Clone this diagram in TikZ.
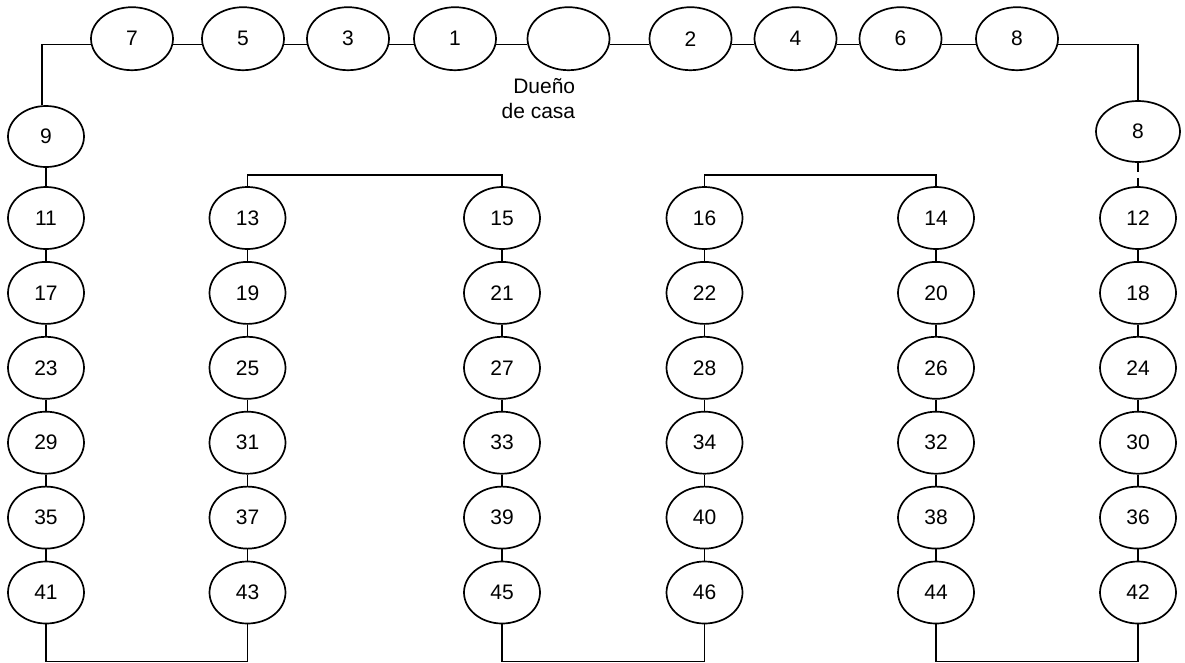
\documentclass[tikz,border=0pt]{standalone}
\usepackage{fontspec}
\setmainfont{Liberation Sans}
\usetikzlibrary{shapes.geometric}

\begin{document}
\begin{tikzpicture}[x=1pt, y=-1pt, line width=1.7pt,
  seat/.style={ellipse, draw, inner sep=0pt, minimum width=82pt, minimum height=63pt, font=\fontsize{21}{24}\selectfont},
  cseat/.style={seat, minimum width=76pt, minimum height=62pt}]
\useasboundingbox (0,0) rectangle (1185,662);
% top row
\node[seat] (t7) at (132,38.7) {7};
\node[seat] (t5) at (243,38.7) {5};
\node[seat] (t3) at (348,38.7) {3};
\node[seat] (t1) at (455,38.7) {1};
\node[seat] (host) at (568.5,38.7) {};
\node[seat] (t2) at (690.5,38.7) {2};
\node[seat] (t4) at (795.5,38.7) {4};
\node[seat] (t6) at (900.5,38.7) {6};
\node[seat] (t8) at (1017,38.7) {8};
\node[anchor=north east, align=right, inner sep=0pt, font=\fontsize{21}{25}\selectfont] (hostlabel) at (576,78) {Dueño\\de casa};
\draw (t7.-8) -- (t5.188);
\draw (t5.-8) -- (t3.188);
\draw (t3.-8) -- (t1.188);
\draw (t1.-8) -- (host.188);
\draw (host.-8) -- (t2.188);
\draw (t2.-8) -- (t4.188);
\draw (t4.-8) -- (t6.188);
\draw (t6.-8) -- (t8.188);
% sides
\node[cseat, minimum height=61pt] (s9) at (46,136.5) {9};
\node[seat, minimum width=84pt, minimum height=61pt] (s8) at (1138,131.5) {8};
\draw (t7.188) -| ([xshift=-4pt]s9.north);
\draw (t8.-8) -| (s8.north);
% columns
\foreach \cx/\names in {46/{11,17,23,29,35,41}, 247.5/{13,19,25,31,37,43}, 502/{15,21,27,33,39,45},
                        704.5/{16,22,28,34,40,46}, 936/{14,20,26,32,38,44}, 1138/{12,18,24,30,36,42}} {
  \foreach \n [count=\i from 0, remember=\n as \prev (initially 0)] in \names {
    \node[cseat] (c\n) at (\cx,218+74.9*\i) {\n};
    \ifnum\i>0 \draw (c\prev) -- (c\n); \fi
  }
}
\draw (s9) -- (c11);
\draw[dash pattern=on 9pt off 6pt] (s8) -- (c12);
\draw (c13.north) -- ++(0,-11) -| (c15.north);
\draw (c16.north) -- ++(0,-11) -| (c14.north);
\draw (c41.south) -- ++(0,37) -| (c43.south);
\draw (c45.south) -- ++(0,37) -| (c46.south);
\draw (c44.south) -- ++(0,37) -| (c42.south);
\end{tikzpicture}
\end{document}
